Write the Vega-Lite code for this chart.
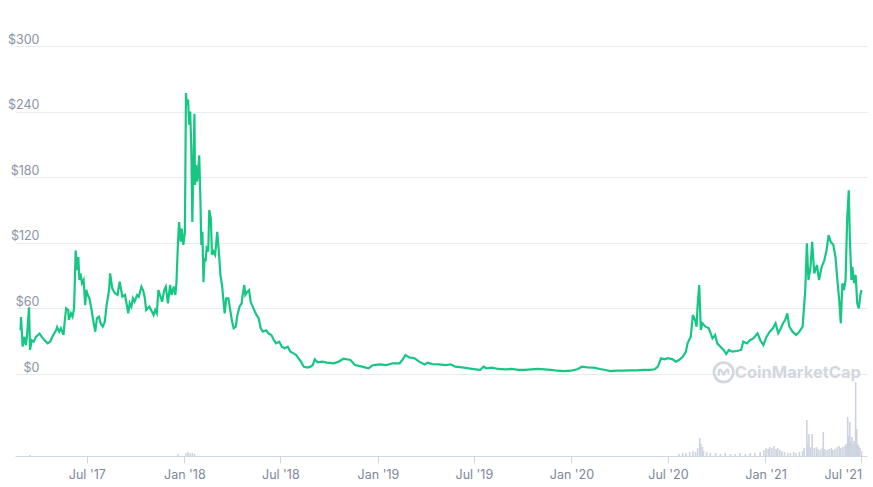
{
  "$schema": "https://vega.github.io/schema/vega-lite/v6.json",
  "width": 852,
  "height": 410,
  "autosize": {"type": "none"},
  "padding": {"left": 15, "top": 46, "right": 6, "bottom": 31},
  "background": "#ffffff",
  "config": {
    "view": {"stroke": null},
    "font": "Inter",
    "axis": {"labelFont": "Inter", "labelColor": "#7d879b", "labelFontSize": 12.5}
  },
  "datasets": {
    "price": [
      {"date": "2017-02-26", "price": 40}, {"date": "2017-02-27", "price": 52}, {"date": "2017-03-02", "price": 25},
      {"date": "2017-03-05", "price": 34}, {"date": "2017-03-08", "price": 26.5}, {"date": "2017-03-10", "price": 33.5},
      {"date": "2017-03-14", "price": 61}, {"date": "2017-03-16", "price": 22}, {"date": "2017-03-19", "price": 31},
      {"date": "2017-03-23", "price": 29.6}, {"date": "2017-03-27", "price": 34}, {"date": "2017-04-03", "price": 37},
      {"date": "2017-04-07", "price": 34}, {"date": "2017-04-12", "price": 31}, {"date": "2017-04-18", "price": 28},
      {"date": "2017-04-23", "price": 29.6}, {"date": "2017-04-27", "price": 34}, {"date": "2017-05-04", "price": 40},
      {"date": "2017-05-06", "price": 43}, {"date": "2017-05-10", "price": 38.7}, {"date": "2017-05-13", "price": 41.8},
      {"date": "2017-05-18", "price": 35.7}, {"date": "2017-05-20", "price": 46.4}, {"date": "2017-05-23", "price": 60},
      {"date": "2017-05-27", "price": 58.5}, {"date": "2017-05-28", "price": 49.4}, {"date": "2017-06-01", "price": 55.5},
      {"date": "2017-06-04", "price": 52.4}, {"date": "2017-06-07", "price": 60}, {"date": "2017-06-10", "price": 113},
      {"date": "2017-06-13", "price": 95}, {"date": "2017-06-15", "price": 107}, {"date": "2017-06-17", "price": 86},
      {"date": "2017-06-19", "price": 92}, {"date": "2017-06-22", "price": 83}, {"date": "2017-06-25", "price": 86},
      {"date": "2017-06-28", "price": 63}, {"date": "2017-06-30", "price": 77}, {"date": "2017-07-03", "price": 72},
      {"date": "2017-07-06", "price": 69}, {"date": "2017-07-10", "price": 58.5}, {"date": "2017-07-14", "price": 46.4},
      {"date": "2017-07-17", "price": 38.7}, {"date": "2017-07-20", "price": 51}, {"date": "2017-07-24", "price": 52.4},
      {"date": "2017-07-27", "price": 46.4}, {"date": "2017-07-31", "price": 43.3}, {"date": "2017-08-04", "price": 47.8},
      {"date": "2017-08-07", "price": 61.6}, {"date": "2017-08-12", "price": 76.8}, {"date": "2017-08-14", "price": 92},
      {"date": "2017-08-18", "price": 78.4}, {"date": "2017-08-23", "price": 73.8}, {"date": "2017-08-28", "price": 72.3},
      {"date": "2017-09-01", "price": 84.4}, {"date": "2017-09-06", "price": 70.7}, {"date": "2017-09-11", "price": 72.3},
      {"date": "2017-09-15", "price": 61.6}, {"date": "2017-09-17", "price": 55.5}, {"date": "2017-09-20", "price": 64.7},
      {"date": "2017-09-23", "price": 61.6}, {"date": "2017-09-26", "price": 69.2}, {"date": "2017-09-29", "price": 66.1},
      {"date": "2017-10-04", "price": 72.3}, {"date": "2017-10-07", "price": 70.7}, {"date": "2017-10-12", "price": 79.9},
      {"date": "2017-10-15", "price": 76.8}, {"date": "2017-10-18", "price": 70.7}, {"date": "2017-10-21", "price": 58.5},
      {"date": "2017-10-24", "price": 60.1}, {"date": "2017-10-27", "price": 61.6}, {"date": "2017-11-01", "price": 57},
      {"date": "2017-11-04", "price": 54}, {"date": "2017-11-07", "price": 58.5}, {"date": "2017-11-10", "price": 55.5},
      {"date": "2017-11-13", "price": 76.8}, {"date": "2017-11-17", "price": 70.7}, {"date": "2017-11-20", "price": 66.1},
      {"date": "2017-11-24", "price": 76.8}, {"date": "2017-11-27", "price": 79.9}, {"date": "2017-12-01", "price": 64.7},
      {"date": "2017-12-05", "price": 81.4}, {"date": "2017-12-08", "price": 72.3}, {"date": "2017-12-12", "price": 79.9},
      {"date": "2017-12-15", "price": 72.3}, {"date": "2017-12-17", "price": 83}, {"date": "2017-12-20", "price": 121},
      {"date": "2017-12-22", "price": 139}, {"date": "2017-12-25", "price": 121}, {"date": "2017-12-27", "price": 133},
      {"date": "2017-12-30", "price": 118}, {"date": "2018-01-02", "price": 130}, {"date": "2018-01-04", "price": 257},
      {"date": "2018-01-06", "price": 246}, {"date": "2018-01-08", "price": 251}, {"date": "2018-01-10", "price": 228},
      {"date": "2018-01-12", "price": 240}, {"date": "2018-01-14", "price": 208}, {"date": "2018-01-16", "price": 139},
      {"date": "2018-01-18", "price": 188}, {"date": "2018-01-20", "price": 238}, {"date": "2018-01-21", "price": 173},
      {"date": "2018-01-23", "price": 191}, {"date": "2018-01-25", "price": 176}, {"date": "2018-01-27", "price": 185},
      {"date": "2018-01-29", "price": 200}, {"date": "2018-01-31", "price": 164}, {"date": "2018-02-02", "price": 118},
      {"date": "2018-02-04", "price": 130}, {"date": "2018-02-06", "price": 84}, {"date": "2018-02-08", "price": 106},
      {"date": "2018-02-10", "price": 103}, {"date": "2018-02-12", "price": 115}, {"date": "2018-02-15", "price": 112},
      {"date": "2018-02-17", "price": 150}, {"date": "2018-02-20", "price": 142}, {"date": "2018-02-22", "price": 109},
      {"date": "2018-02-25", "price": 112}, {"date": "2018-02-28", "price": 109}, {"date": "2018-03-04", "price": 130},
      {"date": "2018-03-07", "price": 112}, {"date": "2018-03-10", "price": 90.5}, {"date": "2018-03-13", "price": 81.4},
      {"date": "2018-03-16", "price": 66}, {"date": "2018-03-18", "price": 55.5}, {"date": "2018-03-21", "price": 69.2},
      {"date": "2018-03-25", "price": 69.2}, {"date": "2018-03-28", "price": 60}, {"date": "2018-04-01", "price": 47.8},
      {"date": "2018-04-04", "price": 41.8}, {"date": "2018-04-08", "price": 43.3}, {"date": "2018-04-11", "price": 54},
      {"date": "2018-04-15", "price": 61.6}, {"date": "2018-04-19", "price": 64.7}, {"date": "2018-04-21", "price": 72.3},
      {"date": "2018-04-24", "price": 81.4}, {"date": "2018-04-26", "price": 72.3}, {"date": "2018-04-30", "price": 75.3},
      {"date": "2018-05-03", "price": 76.8}, {"date": "2018-05-06", "price": 66}, {"date": "2018-05-10", "price": 61.6},
      {"date": "2018-05-14", "price": 57}, {"date": "2018-05-17", "price": 54}, {"date": "2018-05-21", "price": 51},
      {"date": "2018-05-25", "price": 41.8}, {"date": "2018-05-29", "price": 38.7}, {"date": "2018-06-04", "price": 40},
      {"date": "2018-06-09", "price": 37}, {"date": "2018-06-14", "price": 35.7}, {"date": "2018-06-19", "price": 31},
      {"date": "2018-06-23", "price": 28}, {"date": "2018-06-29", "price": 29.6}, {"date": "2018-07-04", "price": 25},
      {"date": "2018-07-09", "price": 23.5}, {"date": "2018-07-15", "price": 25}, {"date": "2018-07-20", "price": 20.4},
      {"date": "2018-07-26", "price": 18.9}, {"date": "2018-07-31", "price": 17.4}, {"date": "2018-08-04", "price": 14.4},
      {"date": "2018-08-09", "price": 11.3}, {"date": "2018-08-14", "price": 6.7}, {"date": "2018-08-21", "price": 5.8},
      {"date": "2018-08-27", "price": 6.7}, {"date": "2018-08-31", "price": 8.2}, {"date": "2018-09-04", "price": 13.4},
      {"date": "2018-09-09", "price": 10.7}, {"date": "2018-09-18", "price": 11.3}, {"date": "2018-09-27", "price": 10.4},
      {"date": "2018-10-10", "price": 9.8}, {"date": "2018-10-19", "price": 11.3}, {"date": "2018-10-28", "price": 14},
      {"date": "2018-11-10", "price": 12.8}, {"date": "2018-11-19", "price": 8.2}, {"date": "2018-12-02", "price": 6.7},
      {"date": "2018-12-14", "price": 5.2}, {"date": "2018-12-23", "price": 8.2}, {"date": "2019-01-05", "price": 8.8},
      {"date": "2019-01-17", "price": 8.2}, {"date": "2019-01-29", "price": 9.8}, {"date": "2019-02-11", "price": 9.8},
      {"date": "2019-02-16", "price": 12.8}, {"date": "2019-02-22", "price": 17.4}, {"date": "2019-03-01", "price": 15.2},
      {"date": "2019-03-11", "price": 14.4}, {"date": "2019-03-20", "price": 11.3}, {"date": "2019-03-30", "price": 8.8},
      {"date": "2019-04-05", "price": 10.4}, {"date": "2019-04-14", "price": 9.1}, {"date": "2019-04-26", "price": 8.8},
      {"date": "2019-05-09", "price": 8.2}, {"date": "2019-05-18", "price": 8.8}, {"date": "2019-05-27", "price": 6.7},
      {"date": "2019-06-09", "price": 6.1}, {"date": "2019-06-21", "price": 5.2}, {"date": "2019-07-04", "price": 4.3},
      {"date": "2019-07-13", "price": 3.7}, {"date": "2019-07-19", "price": 6.7}, {"date": "2019-07-25", "price": 5.2},
      {"date": "2019-08-04", "price": 5.8}, {"date": "2019-08-16", "price": 4.6}, {"date": "2019-08-29", "price": 4.3},
      {"date": "2019-09-10", "price": 4.6}, {"date": "2019-09-23", "price": 3.7}, {"date": "2019-10-05", "price": 3.7},
      {"date": "2019-10-17", "price": 4.3}, {"date": "2019-10-30", "price": 4.6}, {"date": "2019-11-11", "price": 4.3},
      {"date": "2019-11-23", "price": 3.7}, {"date": "2019-12-06", "price": 3}, {"date": "2019-12-18", "price": 2.7},
      {"date": "2019-12-31", "price": 3}, {"date": "2020-01-12", "price": 4.3}, {"date": "2020-01-21", "price": 6.7},
      {"date": "2020-01-31", "price": 6.1}, {"date": "2020-02-12", "price": 5.8}, {"date": "2020-02-24", "price": 4.6},
      {"date": "2020-03-05", "price": 3.7}, {"date": "2020-03-14", "price": 2.7}, {"date": "2020-03-27", "price": 3},
      {"date": "2020-04-08", "price": 3}, {"date": "2020-04-20", "price": 3.4}, {"date": "2020-05-03", "price": 3.4},
      {"date": "2020-05-15", "price": 3.7}, {"date": "2020-05-28", "price": 3.7}, {"date": "2020-06-06", "price": 4.3},
      {"date": "2020-06-12", "price": 6.7}, {"date": "2020-06-18", "price": 14.4}, {"date": "2020-06-25", "price": 13.4},
      {"date": "2020-07-01", "price": 14.4}, {"date": "2020-07-10", "price": 13.4}, {"date": "2020-07-16", "price": 11.3},
      {"date": "2020-07-22", "price": 12.8}, {"date": "2020-07-29", "price": 15.8}, {"date": "2020-08-04", "price": 20.4},
      {"date": "2020-08-07", "price": 28}, {"date": "2020-08-13", "price": 34.1}, {"date": "2020-08-17", "price": 54},
      {"date": "2020-08-21", "price": 49.4}, {"date": "2020-08-24", "price": 43.3}, {"date": "2020-08-26", "price": 63.1},
      {"date": "2020-08-29", "price": 81.4}, {"date": "2020-09-01", "price": 40.2}, {"date": "2020-09-04", "price": 46.4},
      {"date": "2020-09-10", "price": 43.3}, {"date": "2020-09-16", "price": 41.8}, {"date": "2020-09-23", "price": 32.6},
      {"date": "2020-09-28", "price": 35.7}, {"date": "2020-10-02", "price": 28}, {"date": "2020-10-08", "price": 25},
      {"date": "2020-10-14", "price": 22}, {"date": "2020-10-19", "price": 18.3}, {"date": "2020-10-24", "price": 22},
      {"date": "2020-10-30", "price": 20.4}, {"date": "2020-11-08", "price": 21}, {"date": "2020-11-16", "price": 22},
      {"date": "2020-11-20", "price": 29.6}, {"date": "2020-11-27", "price": 28}, {"date": "2020-12-03", "price": 31.1},
      {"date": "2020-12-09", "price": 32.6}, {"date": "2020-12-17", "price": 37.2}, {"date": "2020-12-22", "price": 31.1},
      {"date": "2020-12-28", "price": 26.5}, {"date": "2021-01-03", "price": 34.1}, {"date": "2021-01-09", "price": 38.7},
      {"date": "2021-01-15", "price": 41.8}, {"date": "2021-01-20", "price": 46.4}, {"date": "2021-01-25", "price": 37.2},
      {"date": "2021-01-30", "price": 41.8}, {"date": "2021-02-03", "price": 46.4}, {"date": "2021-02-07", "price": 49.4},
      {"date": "2021-02-11", "price": 55.5}, {"date": "2021-02-15", "price": 43.3}, {"date": "2021-02-21", "price": 38.7},
      {"date": "2021-02-28", "price": 35.7}, {"date": "2021-03-06", "price": 38.7}, {"date": "2021-03-12", "price": 43.3},
      {"date": "2021-03-17", "price": 76.8}, {"date": "2021-03-20", "price": 119.5}, {"date": "2021-03-23", "price": 86},
      {"date": "2021-03-27", "price": 98}, {"date": "2021-03-30", "price": 121}, {"date": "2021-04-03", "price": 92},
      {"date": "2021-04-08", "price": 99.7}, {"date": "2021-04-12", "price": 86}, {"date": "2021-04-17", "price": 98},
      {"date": "2021-04-22", "price": 104}, {"date": "2021-04-26", "price": 113}, {"date": "2021-04-30", "price": 127},
      {"date": "2021-05-04", "price": 121}, {"date": "2021-05-09", "price": 118}, {"date": "2021-05-13", "price": 107},
      {"date": "2021-05-16", "price": 89}, {"date": "2021-05-20", "price": 67.7}, {"date": "2021-05-23", "price": 46.4},
      {"date": "2021-05-26", "price": 83}, {"date": "2021-05-29", "price": 76.8}, {"date": "2021-06-01", "price": 86},
      {"date": "2021-06-04", "price": 140.8}, {"date": "2021-06-07", "price": 168}, {"date": "2021-06-09", "price": 125.6},
      {"date": "2021-06-12", "price": 86}, {"date": "2021-06-14", "price": 98}, {"date": "2021-06-17", "price": 83},
      {"date": "2021-06-20", "price": 90.5}, {"date": "2021-06-23", "price": 64.7}, {"date": "2021-06-26", "price": 60},
      {"date": "2021-06-29", "price": 72.3}, {"date": "2021-07-01", "price": 76.8}
    ],
    "volume": [
      {"date": "2017-03-16", "volume": 10}, {"date": "2017-12-20", "volume": 20}, {"date": "2018-01-04", "volume": 30},
      {"date": "2018-01-08", "volume": 40}, {"date": "2018-01-12", "volume": 25}, {"date": "2018-01-16", "volume": 30},
      {"date": "2018-01-20", "volume": 20}, {"date": "2020-07-22", "volume": 20}, {"date": "2020-07-29", "volume": 30},
      {"date": "2020-08-04", "volume": 30}, {"date": "2020-08-11", "volume": 40}, {"date": "2020-08-17", "volume": 50},
      {"date": "2020-08-22", "volume": 40}, {"date": "2020-08-26", "volume": 80}, {"date": "2020-08-30", "volume": 180},
      {"date": "2020-09-01", "volume": 120}, {"date": "2020-09-04", "volume": 90}, {"date": "2020-09-06", "volume": 50},
      {"date": "2020-09-12", "volume": 40}, {"date": "2020-09-19", "volume": 30}, {"date": "2020-09-29", "volume": 30},
      {"date": "2020-10-08", "volume": 20}, {"date": "2020-10-17", "volume": 30}, {"date": "2020-10-27", "volume": 20},
      {"date": "2020-11-05", "volume": 20}, {"date": "2020-11-14", "volume": 30}, {"date": "2020-11-24", "volume": 20},
      {"date": "2020-12-03", "volume": 30}, {"date": "2020-12-12", "volume": 30}, {"date": "2020-12-22", "volume": 40},
      {"date": "2020-12-29", "volume": 60}, {"date": "2021-01-02", "volume": 80}, {"date": "2021-01-06", "volume": 70},
      {"date": "2021-01-09", "volume": 90}, {"date": "2021-01-13", "volume": 80}, {"date": "2021-01-17", "volume": 100},
      {"date": "2021-01-21", "volume": 70}, {"date": "2021-01-24", "volume": 80}, {"date": "2021-01-28", "volume": 60},
      {"date": "2021-02-01", "volume": 50}, {"date": "2021-02-06", "volume": 40}, {"date": "2021-02-12", "volume": 30},
      {"date": "2021-02-17", "volume": 30}, {"date": "2021-02-23", "volume": 40}, {"date": "2021-02-28", "volume": 30},
      {"date": "2021-03-06", "volume": 40}, {"date": "2021-03-12", "volume": 50}, {"date": "2021-03-15", "volume": 80},
      {"date": "2021-03-20", "volume": 360}, {"date": "2021-03-22", "volume": 120}, {"date": "2021-03-24", "volume": 220},
      {"date": "2021-03-27", "volume": 90}, {"date": "2021-03-30", "volume": 220}, {"date": "2021-04-03", "volume": 80},
      {"date": "2021-04-07", "volume": 90}, {"date": "2021-04-10", "volume": 70}, {"date": "2021-04-14", "volume": 60},
      {"date": "2021-04-18", "volume": 80}, {"date": "2021-04-20", "volume": 240}, {"date": "2021-04-23", "volume": 70},
      {"date": "2021-04-27", "volume": 60}, {"date": "2021-05-01", "volume": 70}, {"date": "2021-05-05", "volume": 80},
      {"date": "2021-05-08", "volume": 60}, {"date": "2021-05-12", "volume": 70}, {"date": "2021-05-16", "volume": 90},
      {"date": "2021-05-20", "volume": 100}, {"date": "2021-05-23", "volume": 80}, {"date": "2021-05-27", "volume": 90},
      {"date": "2021-05-31", "volume": 100}, {"date": "2021-06-02", "volume": 120}, {"date": "2021-06-05", "volume": 390},
      {"date": "2021-06-07", "volume": 200}, {"date": "2021-06-09", "volume": 340}, {"date": "2021-06-11", "volume": 140},
      {"date": "2021-06-13", "volume": 190}, {"date": "2021-06-15", "volume": 120}, {"date": "2021-06-17", "volume": 150},
      {"date": "2021-06-20", "volume": 740}, {"date": "2021-06-22", "volume": 270}, {"date": "2021-06-24", "volume": 120},
      {"date": "2021-06-26", "volume": 100}, {"date": "2021-06-28", "volume": 80}, {"date": "2021-07-01", "volume": 50}
    ],
    "watermark": [
      {"date": "2020-10-14", "price": 1.5, "label": "", "logo": "circle"},
      {"date": "2021-03-03", "price": 0.9, "label": "CoinMarketCap", "logo": ""}
    ]
  },
  "encoding": {
    "x": {
      "field": "date",
      "type": "temporal",
      "title": null,
      "scale": {"domain": [{"year": 2017, "month": 2, "date": 25}, {"year": 2021, "month": 7, "date": 2}]},
      "axis": {
        "format": "%b '%y",
        "tickCount": {"interval": "month", "step": 6},
        "grid": false,
        "domainColor": "#cfd6e4",
        "tickColor": "#cfd6e4",
        "tickSize": 7,
        "labelPadding": 5,
        "labelFlush": 6,
        "labelOverlap": false
      }
    }
  },
  "layer": [
    {
      "data": {"name": "volume"},
      "mark": {"type": "bar", "size": 1.6, "color": "#cdd3e0"},
      "encoding": {
        "y": {"field": "volume", "type": "quantitative", "scale": {"domain": [0, 4100], "nice": false}, "axis": null}
      }
    },
    {
      "data": {"name": "price"},
      "mark": {"type": "line", "color": "#16c784", "strokeWidth": 2.2},
      "encoding": {
        "y": {
          "field": "price",
          "type": "quantitative",
          "title": null,
          "scale": {"domain": [-75, 300], "nice": false, "zero": false},
          "axis": {
            "values": [0, 60, 120, 180, 240, 300],
            "labelExpr": "'$' + datum.value",
            "grid": true,
            "gridColor": "#e8ebf0",
            "gridWidth": 1,
            "domain": false,
            "ticks": false,
            "tickSize": 0,
            "labelAlign": "right",
            "labelBaseline": "alphabetic",
            "labelPadding": -24,
            "labelOffset": -3,
            "labelColor": "#8a93a6"
          }
        }
      }
    },
    {
      "data": {"name": "watermark"},
      "transform": [{"filter": "datum.label != ''"}],
      "mark": {"type": "text", "fontSize": 16.5, "fontWeight": "bold", "color": "#d3d7df", "align": "center", "baseline": "middle"},
      "encoding": {
        "y": {"field": "price", "type": "quantitative", "scale": {"domain": [-75, 300], "nice": false, "zero": false}, "axis": null},
        "text": {"field": "label"}
      }
    },
    {
      "data": {"name": "watermark"},
      "transform": [{"filter": "datum.logo != ''"}],
      "mark": {"type": "point", "shape": "circle", "size": 380, "filled": false, "strokeWidth": 2.6, "color": "#d3d7df", "opacity": 1},
      "encoding": {
        "y": {"field": "price", "type": "quantitative", "scale": {"domain": [-75, 300], "nice": false, "zero": false}, "axis": null}
      }
    },
    {
      "data": {"name": "watermark"},
      "transform": [{"filter": "datum.logo != ''"}],
      "mark": {
        "type": "point",
        "shape": "M-0.5,0.35 L-0.5,-0.05 Q-0.45,-0.4 -0.25,-0.2 L0,0.2 L0.25,-0.2 Q0.45,-0.4 0.5,-0.05 L0.5,0.15",
        "size": 380,
        "filled": false,
        "strokeWidth": 2.4,
        "color": "#d3d7df",
        "opacity": 1
      },
      "encoding": {
        "y": {"field": "price", "type": "quantitative", "scale": {"domain": [-75, 300], "nice": false, "zero": false}, "axis": null}
      }
    }
  ],
  "resolve": {"scale": {"y": "independent"}}
}
